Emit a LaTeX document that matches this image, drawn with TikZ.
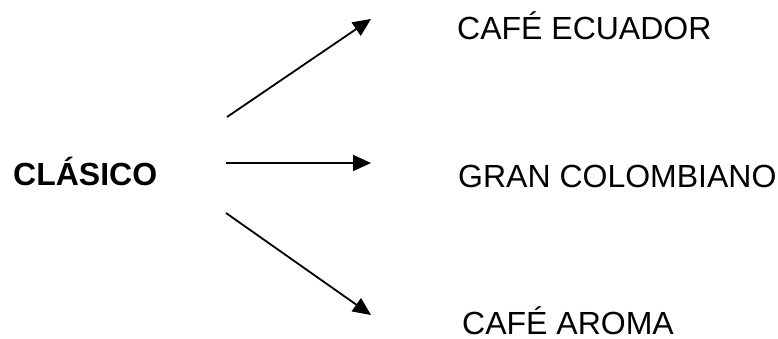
\documentclass[tikz,border=0pt]{standalone}
\usepackage{fontspec}
\setmainfont{Liberation Sans}
\usetikzlibrary{arrows.meta}
\tikzset{
    lbl/.style={anchor=base west,inner sep=0pt,font=\fontsize{32}{38}\selectfont},
    root/.style={lbl,font=\fontsize{32}{38}\selectfont\bfseries},
    link/.style={draw,line width=1.8pt,-{Triangle[length=18pt,width=16pt]}},
}
\begin{document}
\begin{tikzpicture}[x=1pt,y=-1pt]
\useasboundingbox (0,0) rectangle (778,338);
\node[root] (clasico)    at (13,185)  {CLÁSICO};
\node[lbl]  (ecuador)    at (457,39)  {CAFÉ ECUADOR};
\node[lbl]  (colombiano) at (458,187) {GRAN COLOMBIANO};
\node[lbl]  (aroma)      at (462,334) {CAFÉ AROMA};
\coordinate (s1) at (227,117);
\coordinate (e1) at (371,19);
\coordinate (s2) at (226,163);
\coordinate (e2) at (371,163);
\coordinate (s3) at (226,213);
\coordinate (e3) at (371,315);
\path
    (s1) edge[link] (e1)
    (s2) edge[link] (e2)
    (s3) edge[link] (e3)
;
\end{tikzpicture}
\end{document}
